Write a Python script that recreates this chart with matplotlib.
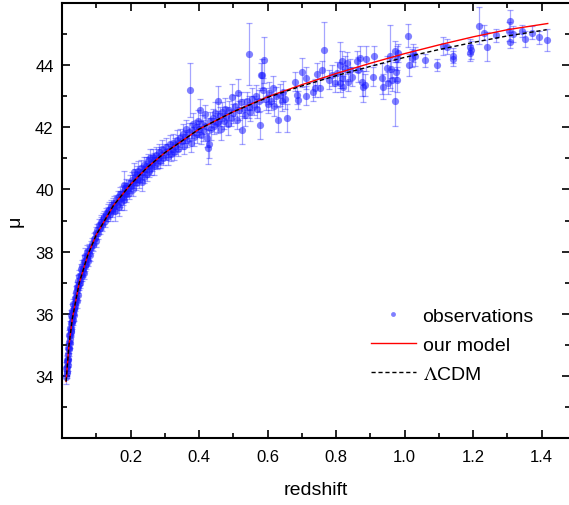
import numpy as np
import matplotlib
matplotlib.use("Agg")
import matplotlib.pyplot as plt
from matplotlib.ticker import MultipleLocator, FixedLocator

plt.rcParams['font.family'] = ['Liberation Sans', 'DejaVu Sans']
plt.rcParams['mathtext.fontset'] = 'stix'

# model curves
z_model = [0.012, 0.02, 0.03, 0.05, 0.075, 0.1, 0.15, 0.2, 0.25, 0.3, 0.4, 0.5,
           0.6, 0.7, 0.8, 0.9, 1.0, 1.1, 1.2, 1.3, 1.418]
mu_ours = [33.82, 34.95, 35.83, 36.98, 37.88, 38.54, 39.48, 40.16, 40.72, 41.18, 41.94, 42.5,
           42.98, 43.37, 43.73, 44.06, 44.37, 44.65, 44.91, 45.14, 45.34]
z_lcdm = [0.012, 0.02, 0.03, 0.05, 0.075, 0.1, 0.15, 0.2, 0.25, 0.3, 0.4, 0.5,
          0.6, 0.7, 0.8, 0.9, 1.0, 1.1, 1.2, 1.3, 1.415]
mu_lcdm = [33.82, 34.95, 35.83, 36.98, 37.88, 38.54, 39.48, 40.16, 40.72, 41.18, 41.94, 42.5,
           42.96, 43.33, 43.66, 43.96, 44.25, 44.5, 44.73, 44.94, 45.14]

# observations (redshift, distance modulus, error)
z_obs = [
    0.0125, 0.014, 0.015, 0.0155, 0.016, 0.017, 0.0175, 0.018, 0.019, 0.020,
    0.021, 0.022, 0.023, 0.024, 0.025, 0.026, 0.027, 0.028, 0.029, 0.030,
    0.031, 0.032, 0.033, 0.034, 0.035, 0.036, 0.038, 0.039, 0.040, 0.042,
    0.043, 0.045, 0.046, 0.048, 0.050, 0.052, 0.054, 0.056, 0.058, 0.060,
    0.062, 0.064, 0.066, 0.068, 0.070, 0.072, 0.074, 0.076, 0.078, 0.080,
    0.082, 0.085, 0.088, 0.090, 0.093, 0.096, 0.098, 0.100,
    0.013, 0.0145, 0.0165, 0.0185, 0.0215, 0.0235, 0.0255, 0.0275, 0.0305, 0.0335,
    0.037, 0.041, 0.044, 0.047, 0.051, 0.055, 0.059, 0.063, 0.067, 0.073,
    0.103, 0.106, 0.108, 0.11, 0.113, 0.115, 0.118, 0.12, 0.123, 0.125,
    0.128, 0.13, 0.133, 0.135, 0.138, 0.14, 0.143, 0.145, 0.148, 0.15,
    0.153, 0.155, 0.158, 0.16, 0.163, 0.165, 0.168, 0.17, 0.172, 0.175,
    0.178, 0.18, 0.181, 0.182, 0.184, 0.186, 0.188, 0.19, 0.193, 0.195,
    0.198, 0.2,
    0.203, 0.206, 0.208, 0.21, 0.213, 0.215, 0.218, 0.22, 0.223, 0.225,
    0.228, 0.23, 0.233, 0.235, 0.238, 0.24, 0.243, 0.245, 0.248, 0.25,
    0.253, 0.255, 0.258, 0.26, 0.263, 0.266, 0.268, 0.27, 0.273, 0.276,
    0.28, 0.283, 0.286, 0.29, 0.293, 0.296, 0.3, 0.305, 0.308, 0.31,
    0.315, 0.318, 0.32, 0.325, 0.328, 0.33, 0.335, 0.338, 0.34, 0.345,
    0.35, 0.353, 0.356, 0.36, 0.363, 0.366, 0.37, 0.374, 0.376, 0.38,
    0.383, 0.386, 0.39, 0.393, 0.396, 0.4, 0.403, 0.406, 0.41, 0.413,
    0.417, 0.42, 0.424, 0.427, 0.43, 0.433, 0.436, 0.44, 0.444, 0.448,
    0.452, 0.454, 0.456, 0.46, 0.464, 0.468, 0.472, 0.476, 0.48, 0.484,
    0.488, 0.492, 0.495, 0.5, 0.505, 0.51, 0.515, 0.518, 0.522, 0.525,
    0.53, 0.535, 0.54, 0.545, 0.547, 0.55, 0.555, 0.56, 0.565, 0.57,
    0.575, 0.578, 0.58, 0.583, 0.588, 0.591, 0.595, 0.6, 0.605, 0.61,
    0.617, 0.62, 0.625, 0.632, 0.636, 0.641, 0.645, 0.65, 0.656,
    0.680, 0.685, 0.690, 0.700, 0.712, 0.712, 0.734, 0.739, 0.743, 0.753,
    0.758, 0.765, 0.778, 0.787, 0.797, 0.802, 0.812, 0.812, 0.816, 0.816,
    0.821, 0.826, 0.831, 0.836, 0.841, 0.846, 0.860, 0.865, 0.870, 0.875,
    0.880, 0.885, 0.888, 0.907, 0.912, 0.933, 0.938, 0.948, 0.953, 0.958,
    0.961, 0.963, 0.972, 0.972, 0.975, 0.977, 0.979, 0.982, 1.011, 1.014,
    1.021, 1.024, 1.031, 1.060, 1.096, 1.113, 1.123, 1.141, 1.141, 1.191,
    1.191, 1.193, 1.218, 1.232, 1.242, 1.267, 1.306, 1.308, 1.308, 1.317,
    1.342, 1.352, 1.373, 1.392, 1.417,
]
mu_obs = [
    33.95, 34.1, 34.3, 34.15, 34.45, 34.5, 34.7, 34.55, 34.85, 34.9,
    35.1, 35.05, 35.3, 35.2, 35.45, 35.5, 35.4, 35.7, 35.75, 35.9,
    35.8, 36.0, 36.05, 35.95, 36.2, 36.15, 36.35, 36.25, 36.45, 36.55,
    36.4, 36.75, 36.6, 36.85, 36.95, 37.1, 37.0, 37.25, 37.2, 37.35,
    37.45, 37.3, 37.55, 37.7, 37.6, 37.75, 37.85, 37.7, 37.95, 38.05,
    37.9, 38.15, 38.25, 38.2, 38.4, 38.45, 38.35, 38.6,
    34.25, 34.5, 34.35, 34.9, 35.3, 35.55, 35.7, 35.95, 36.1, 36.3,
    36.5, 36.7, 36.85, 37.05, 37.2, 37.45, 37.55, 37.7, 37.85, 38.0,
    38.7, 38.6, 38.85, 38.75, 38.9, 38.95, 38.85, 39.05, 39.1, 39.0,
    39.2, 39.15, 39.3, 39.25, 39.35, 39.2, 39.45, 39.35, 39.5, 39.4,
    39.55, 39.3, 39.6, 39.5, 39.75, 39.45, 39.7, 39.85, 39.6, 39.9,
    39.75, 40.15, 39.9, 39.65, 40.0, 39.85, 40.1, 39.95, 40.05, 39.9,
    40.2, 40.1,
    40.3, 40.0, 40.25, 40.55, 40.4, 40.2, 40.5, 40.35, 40.6, 40.3,
    40.45, 40.7, 40.25, 40.55, 40.8, 40.4, 40.65, 40.75, 40.5, 40.9,
    40.6, 40.8, 41.0, 40.7, 40.85, 41.05, 40.75, 40.95, 41.1, 40.85,
    41.0, 41.2, 40.9, 41.1, 41.3, 41.0, 41.2, 41.35, 41.05, 41.25,
    41.45, 41.15, 41.3, 41.5, 41.2, 41.4, 41.6, 41.3, 41.5, 41.65,
    41.55, 41.8, 41.4, 41.7, 41.95, 41.6, 41.85, 43.2, 41.5, 41.9,
    42.1, 41.7, 42.0, 41.8, 42.2, 41.95, 42.56, 41.75, 42.1, 41.9,
    42.42, 42.05, 41.65, 41.32, 41.45, 42.2, 41.95, 42.3, 42.05, 42.45,
    42.15, 42.83, 42.18, 42.35, 41.95, 42.5, 42.2, 42.6, 42.35, 42.1,
    42.55, 42.3, 42.99, 42.45, 42.7, 42.25, 43.1, 42.55, 42.8, 41.91,
    42.6, 42.4, 42.85, 42.65, 44.35, 42.5, 42.9, 42.7, 43.0, 42.6,
    42.85, 42.07, 43.67, 43.69, 43.2, 44.17, 42.9, 42.75, 43.1, 42.85,
    43.26, 42.7, 43.0, 42.24, 43.04, 42.83, 43.15, 42.9, 42.31,
    43.47, 43.04, 42.88, 43.77, 43.58, 43.02, 43.15, 43.26, 43.72, 43.28,
    43.84, 44.49, 43.53, 43.67, 43.42, 43.74, 44.01, 43.42, 44.12, 43.58,
    43.31, 43.90, 44.06, 43.47, 43.85, 43.63, 44.12, 43.85, 44.23, 43.47,
    43.31, 43.37, 44.21, 43.63, 44.31, 43.58, 43.31, 43.90, 43.42, 44.28,
    43.88, 43.53, 42.83, 44.44, 43.79, 44.23, 43.53, 44.39, 44.95, 44.01,
    44.23, 44.39, 44.28, 44.15, 44.01, 44.62, 44.60, 44.31, 44.21, 44.60,
    44.39, 44.49, 45.27, 45.05, 44.60, 44.96, 45.09, 45.43, 44.76, 45.0,
    45.09, 44.85, 45.05, 44.89, 44.82,
]
err_obs = [
    0.2, 0.18, 0.2, 0.17, 0.18, 0.2, 0.16, 0.18, 0.2, 0.17,
    0.18, 0.16, 0.2, 0.18, 0.17, 0.18, 0.16, 0.2, 0.17, 0.18,
    0.16, 0.18, 0.2, 0.17, 0.16, 0.18, 0.2, 0.17, 0.18, 0.16,
    0.2, 0.18, 0.17, 0.18, 0.2, 0.17, 0.18, 0.2, 0.16, 0.18,
    0.2, 0.17, 0.18, 0.2, 0.16, 0.18, 0.2, 0.17, 0.22, 0.18,
    0.2, 0.18, 0.2, 0.17, 0.2, 0.18, 0.2, 0.2,
    0.2, 0.18, 0.2, 0.17, 0.18, 0.2, 0.16, 0.18, 0.2, 0.17,
    0.18, 0.2, 0.17, 0.18, 0.2, 0.16, 0.18, 0.2, 0.25, 0.22,
    0.2, 0.18, 0.2, 0.18, 0.2, 0.22, 0.2, 0.18, 0.2, 0.22,
    0.2, 0.18, 0.22, 0.2, 0.25, 0.22, 0.2, 0.25, 0.22, 0.2,
    0.25, 0.3, 0.22, 0.25, 0.2, 0.3, 0.25, 0.22, 0.25, 0.2,
    0.25, 0.45, 0.25, 0.3, 0.22, 0.25, 0.22, 0.2, 0.25, 0.22,
    0.25, 0.2,
    0.25, 0.22, 0.2, 0.3, 0.25, 0.22, 0.25, 0.2, 0.3, 0.25,
    0.22, 0.25, 0.3, 0.22, 0.25, 0.2, 0.25, 0.3, 0.22, 0.25,
    0.2, 0.25, 0.3, 0.22, 0.25, 0.25, 0.3, 0.22, 0.25, 0.2,
    0.3, 0.25, 0.22, 0.25, 0.3, 0.22, 0.25, 0.3, 0.25, 0.22,
    0.3, 0.25, 0.22, 0.3, 0.25, 0.25, 0.3, 0.22, 0.25, 0.3,
    0.25, 0.3, 0.25, 0.22, 0.3, 0.25, 0.3, 0.86, 0.3, 0.25,
    0.35, 0.3, 0.25, 0.3, 0.35, 0.25, 0.35, 0.3, 0.3, 0.35,
    0.3, 0.25, 0.3, 0.5, 0.45, 0.3, 0.35, 0.3, 0.25, 0.35,
    0.3, 0.5, 0.35, 0.3, 0.35, 0.3, 0.25, 0.35, 0.3, 0.35,
    0.3, 0.25, 0.4, 0.3, 0.35, 0.3, 0.45, 0.3, 0.35, 0.45,
    0.3, 0.35, 0.3, 0.35, 1.0, 0.3, 0.35, 0.3, 0.35, 0.3,
    0.35, 0.45, 0.4, 0.5, 0.4, 0.73, 0.35, 0.3, 0.35, 0.3,
    0.4, 0.35, 0.3, 0.4, 0.35, 0.3, 0.35, 0.3, 0.45,
    0.3, 0.3, 0.3, 0.46, 0.35, 0.3, 0.3, 0.3, 0.35, 0.3,
    0.3, 0.89, 0.3, 0.35, 0.3, 0.35, 0.75, 0.3, 0.35, 0.3,
    0.35, 0.4, 0.35, 0.3, 0.35, 0.3, 0.35, 0.4, 0.4, 0.45,
    0.5, 0.35, 0.4, 0.3, 0.3, 0.5, 0.4, 0.4, 0.35, 1.0,
    0.3, 0.35, 0.78, 0.35, 0.3, 0.4, 0.4, 0.3, 0.38, 0.35,
    0.3, 0.3, 0.3, 0.2, 0.2, 0.3, 0.25, 0.25, 0.25, 0.25,
    0.25, 0.3, 0.59, 0.25, 0.48, 0.2, 0.3, 0.35, 0.2, 0.25,
    0.2, 0.25, 0.2, 0.2, 0.35,
]

fig = plt.figure(figsize=(5.69, 5.06), dpi=100)
ax = fig.add_axes([62 / 569, 1 - 439 / 506, 508 / 569, 435 / 506])

ax.errorbar(z_obs, mu_obs, yerr=err_obs, fmt='none', ecolor='blue', alpha=0.35,
            elinewidth=0.9, capsize=2.2, capthick=0.9, zorder=1)
ax.plot(z_obs, mu_obs, 'o', color='#1a1aff', alpha=0.55, markersize=5.2,
        markeredgewidth=0, zorder=2)
# legend handle only (smaller dot, as in the original)
ax.plot([], [], 'o', color='blue', alpha=0.5, markersize=3.5, markeredgewidth=0,
        label='observations')
ax.plot(z_model, mu_ours, color='red', lw=1.0, label='our model', zorder=3)
ax.plot(z_lcdm, mu_lcdm, color='black', lw=1.0, ls=(0, (3, 2)), label=r'$\Lambda$CDM', zorder=3)

ax.set_xlim(0, 1.483)
ax.set_ylim(32, 46)
ax.xaxis.set_major_locator(FixedLocator([0.2, 0.4, 0.6, 0.8, 1.0, 1.2, 1.4]))
ax.xaxis.set_minor_locator(MultipleLocator(0.1))
ax.yaxis.set_major_locator(FixedLocator([34, 36, 38, 40, 42, 44]))
ax.yaxis.set_minor_locator(FixedLocator([33, 35, 37, 39, 41, 43, 45]))
ax.tick_params(which='both', direction='in', top=True, right=True, width=1.2,
               labelsize=12)
ax.tick_params(which='major', length=6)
ax.tick_params(which='minor', length=3.5)
ax.tick_params(axis='x', pad=8)
ax.tick_params(axis='y', pad=6)
for s in ['left', 'bottom', 'top']:
    ax.spines[s].set_linewidth(1.5)
ax.spines['right'].set_visible(False)

ax.set_xlabel('redshift', fontsize=14, labelpad=12)
ax.set_ylabel('μ', fontsize=14, labelpad=8)

ax.legend(loc='center left', bbox_to_anchor=(371 / 569, 1 - 346 / 506),
          bbox_transform=fig.transFigure, frameon=False, fontsize=14,
          handlelength=2.3, handletextpad=0.35, labelspacing=0.58,
          borderpad=0, borderaxespad=0)

fig.savefig('out.png', dpi=100)
